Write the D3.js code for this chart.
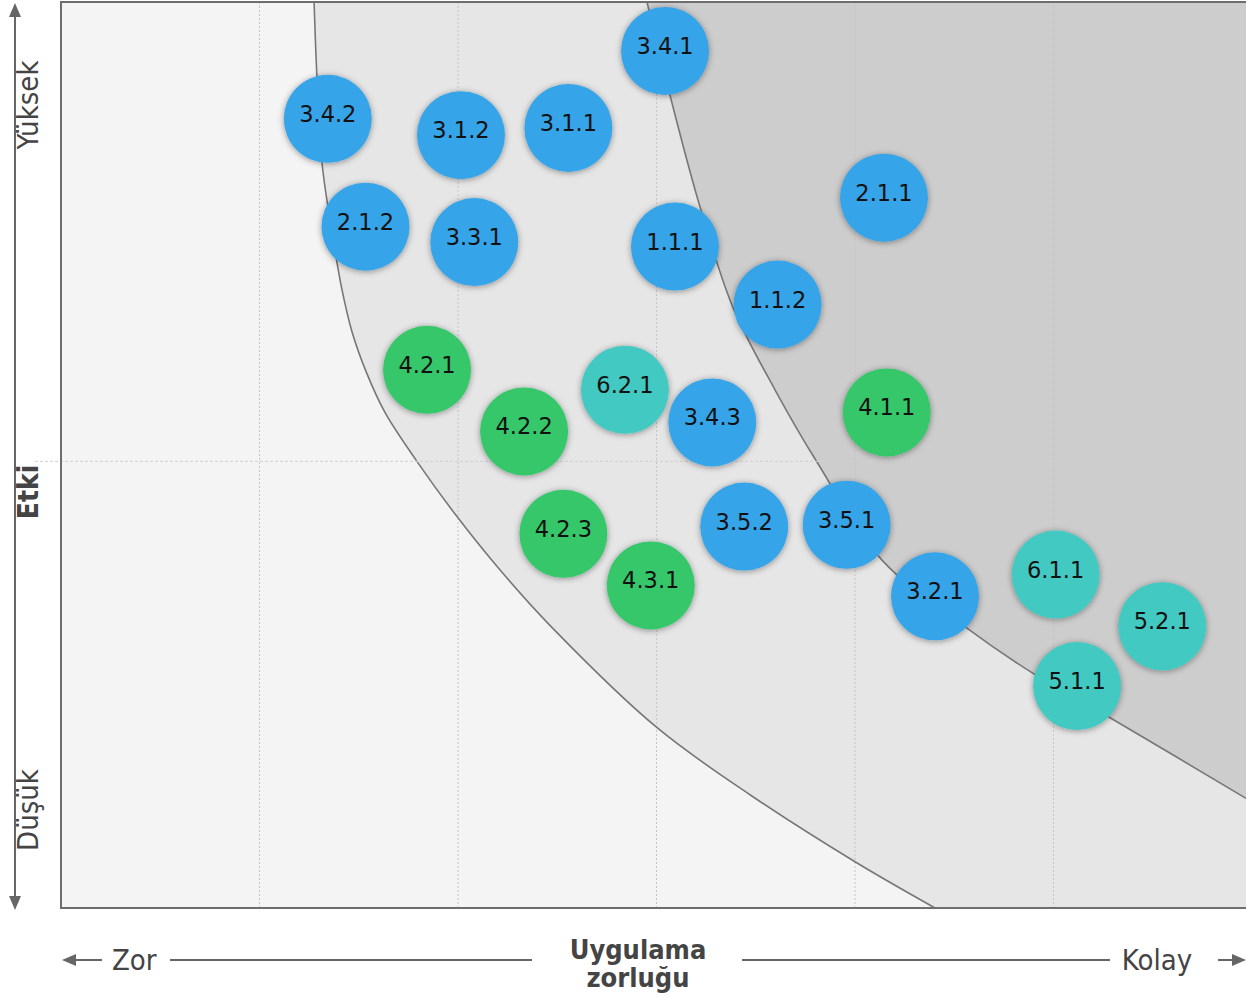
<!DOCTYPE html>
<html><head><meta charset="utf-8">
<script src="https://cdn.jsdelivr.net/npm/d3@7"></script>
<style>html,body{margin:0;padding:0;background:#fff;}svg{display:block;}</style>
</head><body>
<svg id="chart" width="1246" height="997"></svg>
<script>
// ---- data ----
const labels = ["3.4.1","3.4.2","3.1.2","3.1.1","2.1.1","2.1.2","3.3.1","1.1.1","1.1.2","4.2.1","6.2.1","4.2.2","3.4.3","4.1.1","4.2.3","3.5.2","3.5.1","4.3.1","3.2.1","6.1.1","5.2.1","5.1.1"];
const ease   = [3.043,1.344,2.015,2.556,4.146,1.534,2.082,3.093,3.610,1.844,2.841,2.333,3.281,4.160,2.531,3.442,3.958,2.971,4.403,5.011,5.548,5.119];
const impact = [9.46,8.71,8.53,8.61,7.84,7.52,7.35,7.30,6.66,5.94,5.72,5.26,5.36,5.47,4.13,4.21,4.23,3.56,3.44,3.68,3.11,2.45];
const groups = ["b","b","b","b","b","b","b","b","b","g","t","g","b","g","g","b","b","g","b","t","t","t"];
const groupColors = {b:"#36a4e8", g:"#34c76a", t:"#43c9c2"};
const xTicks = [1,2,3,4,5];
const yMid = 4.93;
const curve1x = [1.275,1.290,1.315,1.380,1.416,1.466,1.537,1.632,1.793,1.995,2.212,2.463,3.003,3.471,4.000,4.403];
const curve1y = [10.0,9.14,8.22,7.26,6.82,6.36,5.92,5.47,4.93,4.32,3.73,3.12,1.99,1.25,0.51,0.0];
const curve2x = [2.952,3.068,3.219,3.385,3.597,3.809,4.136,4.564,4.897,5.285,5.970];
const curve2y = [10.0,8.97,7.74,6.63,5.72,4.92,3.84,3.09,2.59,2.10,1.21];
const yLabels = ["Yüksek","Etki","Düşük"];
const xLabels = ["Zor","Uygulama","zorluğu","Kolay"];

// ---- layout ----
const L = 61, T = 2, B = 908, R = 1252;
const x = d3.scaleLinear().domain([0,6]).range([L,R]);
const y = d3.scaleLinear().domain([0,10]).range([B,T]);
const svg = d3.select("#chart");

const defs = svg.append("defs");
const f = defs.append("filter").attr("id","sh").attr("x","-30%").attr("y","-30%").attr("width","160%").attr("height","160%");
f.append("feDropShadow").attr("dx",0).attr("dy",1).attr("stdDeviation",3).attr("flood-color","#000").attr("flood-opacity",0.4);
defs.append("clipPath").attr("id","plotclip").append("rect").attr("x",L).attr("y",T).attr("width",R-L).attr("height",B-T);
defs.append("marker").attr("id","ah").attr("viewBox","0 0 10 10").attr("refX",0).attr("refY",5)
  .attr("markerWidth",14).attr("markerHeight",12).attr("orient","auto-start-reverse").attr("markerUnits","userSpaceOnUse")
  .attr("preserveAspectRatio","none")
  .append("path").attr("d","M0,0 L10,5 L0,10 Z").attr("fill","#666");

const plot = svg.append("g").attr("clip-path","url(#plotclip)");
plot.append("rect").attr("x",L).attr("y",T).attr("width",R-L).attr("height",B-T).attr("fill","#f4f4f4");

const pts1 = curve1x.map((v,i)=>[x(v),y(curve1y[i])]);
const pts2 = curve2x.map((v,i)=>[x(v),y(curve2y[i])]);
const line = d3.line().curve(d3.curveCatmullRom.alpha(0.5));

// medium region: right of curve1
plot.append("path").attr("d", line(pts1) + `L${R+10},${B+10}L${R+10},${T-10}Z`).attr("fill","#e6e6e6");
// dark region: above-right of curve2
plot.append("path").attr("d", line(pts2) + `L${R+10},${T-10}Z`).attr("fill","#cdcdcd");

// grid
plot.selectAll(".vg").data(xTicks).join("line")
  .attr("x1",d=>x(d)).attr("x2",d=>x(d)).attr("y1",T).attr("y2",B)
  .attr("stroke","#c4c4c4").attr("stroke-width",1).attr("stroke-dasharray","2,2");
svg.append("line").attr("x1",35).attr("x2",1225).attr("y1",y(yMid)).attr("y2",y(yMid))
  .attr("stroke","#cfcfcf").attr("stroke-width",1).attr("stroke-dasharray","3,2");

// boundary curves
plot.append("path").attr("d",line(pts1)).attr("fill","none").attr("stroke","#777").attr("stroke-width",1.6);
plot.append("path").attr("d",line(pts2)).attr("fill","none").attr("stroke","#777").attr("stroke-width",1.6);

// frame
svg.append("path").attr("d",`M${R},${T}L${L},${T}L${L},${B}L${R},${B}`).attr("fill","none").attr("stroke","#6e6e6e").attr("stroke-width",2);

// bubbles
const data = labels.map((l,i)=>({l, x:ease[i], y:impact[i], g:groups[i]}));
const bub = svg.append("g").selectAll("g").data(data).join("g")
  .attr("transform",d=>`translate(${x(d.x)},${y(d.y)})`);
bub.append("circle").attr("r",44).attr("fill",d=>groupColors[d.g]).attr("filter","url(#sh)");
bub.append("text").text(d=>d.l).attr("text-anchor","middle").attr("y",3)
  .attr("font-family","DejaVu Sans, Verdana, sans-serif").attr("font-size",22.5).attr("fill","#111");

// vertical axis arrow
svg.append("line").attr("x1",15).attr("x2",15).attr("y1",17).attr("y2",896)
  .attr("stroke","#666").attr("stroke-width",2).attr("marker-start","url(#ah)").attr("marker-end","url(#ah)");
const yPos = [105, 492, 810];
const yWeights = ["normal","bold","normal"];
yLabels.forEach((t,i)=>{
  svg.append("text").text(t).attr("transform",`translate(38,${yPos[i]}) rotate(-90)`)
    .attr("text-anchor","middle").attr("font-family","DejaVu Sans Condensed, DejaVu Sans, sans-serif")
    .attr("font-size", i===1?28:29).attr("font-weight",yWeights[i]).attr("fill","#444");
});

// horizontal axis
const hy = 960;
svg.append("line").attr("x1",76).attr("x2",102).attr("y1",hy).attr("y2",hy).attr("stroke","#666").attr("stroke-width",2).attr("marker-start","url(#ah)");
svg.append("line").attr("x1",170).attr("x2",532).attr("y1",hy).attr("y2",hy).attr("stroke","#666").attr("stroke-width",2);
svg.append("line").attr("x1",742).attr("x2",1110).attr("y1",hy).attr("y2",hy).attr("stroke","#666").attr("stroke-width",2);
svg.append("line").attr("x1",1218).attr("x2",1232).attr("y1",hy).attr("y2",hy).attr("stroke","#666").attr("stroke-width",2).attr("marker-end","url(#ah)");
const cf = "DejaVu Sans Condensed, DejaVu Sans, sans-serif";
svg.append("text").text(xLabels[0]).attr("x",112).attr("y",970).attr("font-family",cf).attr("font-size",29).attr("fill","#444");
svg.append("text").text(xLabels[1]).attr("x",638).attr("y",959).attr("text-anchor","middle").attr("font-family",cf).attr("font-size",27).attr("font-weight","bold").attr("fill","#444");
svg.append("text").text(xLabels[2]).attr("x",638).attr("y",987).attr("text-anchor","middle").attr("font-family",cf).attr("font-size",27).attr("font-weight","bold").attr("fill","#444");
svg.append("text").text(xLabels[3]).attr("x",1157).attr("y",970).attr("text-anchor","middle").attr("font-family",cf).attr("font-size",29).attr("fill","#444");
</script>
</body></html>
